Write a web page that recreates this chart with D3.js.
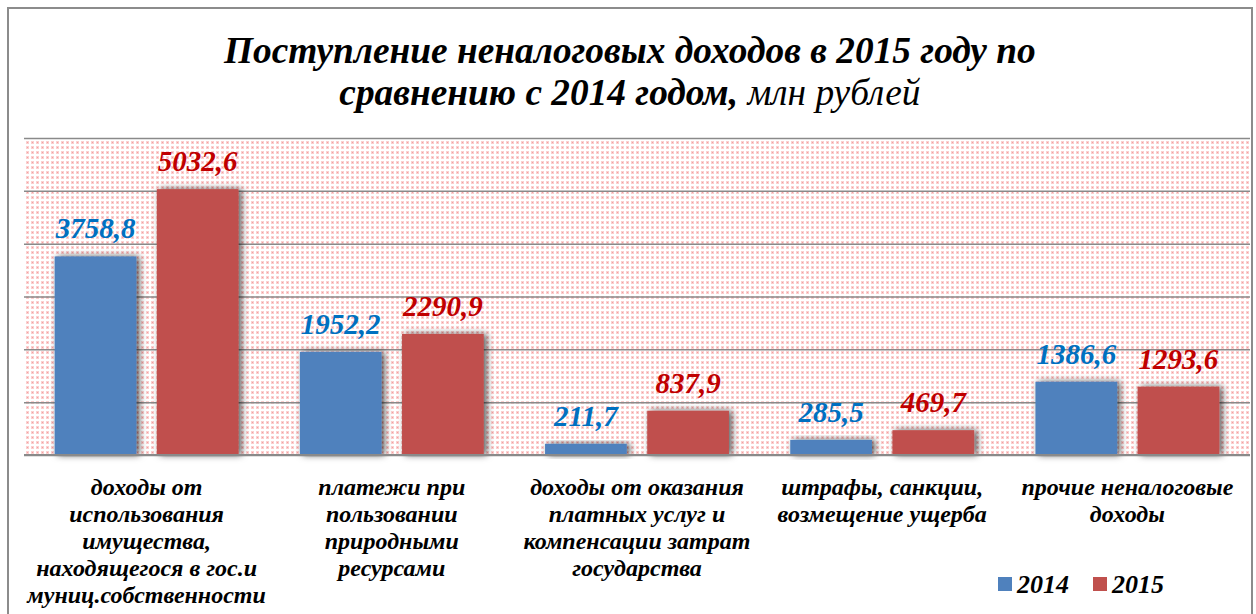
<!DOCTYPE html>
<html>
<head>
<meta charset="utf-8">
<script src="https://cdn.jsdelivr.net/npm/d3@7"></script>
<style>
  body { margin: 0; background: #fff; }
</style>
</head>
<body>
<div id="chart"></div>
<script>
// data
var categories = [
  ["доходы от", "использования", "имущества,", "находящегося в гос.и", "муниц.собственности"],
  ["платежи при", "пользовании", "природными", "ресурсами"],
  ["доходы от оказания", "платных услуг и", "компенсации затрат", "государства"],
  ["штрафы, санкции,", "возмещение ущерба"],
  ["прочие неналоговые", "доходы"]
];
var years = ["2014", "2015"];
var values2014 = [3758.8, 1952.2, 211.7, 285.5, 1386.6];
var values2015 = [5032.6, 2290.9, 837.9, 469.7, 1293.6];
var yTicks = [0, 1000, 2000, 3000, 4000, 5000, 6000];

var width = 1256, height = 614;
var plot = {left: 24, right: 1250, top: 138, bottom: 455};
var colors = {"2014": "#4f81bd", "2015": "#c0504d"};
var labelColors = {"2014": "#0070c0", "2015": "#c00000"};
var serif = "'Liberation Serif'";

var svg = d3.select("#chart").append("svg")
    .attr("width", width)
    .attr("height", height);

var defs = svg.append("defs");

// dotted pink fill of the plot area
var pat = defs.append("pattern")
    .attr("id", "dots")
    .attr("width", 5).attr("height", 5)
    .attr("patternUnits", "userSpaceOnUse");
pat.append("rect").attr("width", 5).attr("height", 5).attr("fill", "#fff");
pat.append("rect").attr("x", 1).attr("y", 1).attr("width", 3).attr("height", 3).attr("fill", "#fbd0d0");
pat.append("rect").attr("x", 2).attr("y", 2).attr("width", 1).attr("height", 1).attr("fill", "#f4a0a0");

var shadow = defs.append("filter")
    .attr("id", "shadow")
    .attr("x", "-30%").attr("y", "-30%")
    .attr("width", "160%").attr("height", "160%");
shadow.append("feDropShadow")
    .attr("dx", 3).attr("dy", 0)
    .attr("stdDeviation", 3.5)
    .attr("flood-color", "#000")
    .attr("flood-opacity", 0.65);

// outer border
svg.append("rect")
    .attr("x", 8).attr("y", 8)
    .attr("width", 1244).attr("height", 620)
    .attr("fill", "none")
    .attr("stroke", "#8c8c8c")
    .attr("stroke-width", 2);

// scales
var x0 = d3.scaleBand()
    .domain(d3.range(categories.length))
    .range([plot.left, plot.right]);

var x1 = d3.scaleBand()
    .domain(years)
    .range([0, x0.bandwidth()])
    .paddingInner(0.2)
    .paddingOuter(0.3);

var y = d3.scaleLinear()
    .domain([0, 6000])
    .range([plot.bottom, plot.top]);

// plot area
svg.append("rect")
    .attr("x", plot.left).attr("y", plot.top)
    .attr("width", plot.right - plot.left)
    .attr("height", plot.bottom - plot.top)
    .attr("fill", "url(#dots)");

// gridlines
var grid = svg.append("g")
    .attr("transform", "translate(" + plot.left + ",0)")
    .call(d3.axisLeft(y).tickValues(yTicks).tickSize(-(plot.right - plot.left)).tickFormat(""));
grid.select(".domain").remove();
grid.selectAll(".tick line")
    .attr("stroke", "#8a8a8a")
    .attr("stroke-width", 1.5);

// bars
var series = years.map(function(yr, i) {
  return {year: yr, values: i === 0 ? values2014 : values2015};
});

var groups = svg.selectAll(".series")
    .data(series)
    .enter().append("g")
    .attr("class", "series");

function points(s) {
  return s.values.map(function(v, i) { return {year: s.year, value: v, idx: i}; });
}

groups.selectAll("rect")
    .data(points)
    .enter().append("rect")
    .attr("x", function(d) { return x0(d.idx) + x1(d.year); })
    .attr("y", function(d) { return y(d.value); })
    .attr("width", x1.bandwidth())
    .attr("height", function(d) { return y(0) - y(d.value); })
    .attr("fill", function(d) { return colors[d.year]; })
    .attr("filter", "url(#shadow)");

// value labels
groups.selectAll("text")
    .data(points)
    .enter().append("text")
    .attr("x", function(d) { return x0(d.idx) + x1(d.year) + x1.bandwidth() / 2; })
    .attr("y", function(d) { return y(d.value) - 18; })
    .attr("text-anchor", "middle")
    .style("font-family", serif)
    .attr("font-size", 29)
    .attr("font-weight", "bold")
    .attr("font-style", "italic")
    .attr("fill", function(d) { return labelColors[d.year]; })
    .text(function(d) { return d3.format(".1f")(d.value).replace(".", ","); });

// baseline over the bars
svg.append("line")
    .attr("x1", plot.left).attr("x2", plot.right)
    .attr("y1", y(0)).attr("y2", y(0))
    .attr("stroke", "#8a8a8a")
    .attr("stroke-width", 2);

// category labels
categories.forEach(function(lines, i) {
  var t = svg.append("text")
      .attr("text-anchor", "middle")
      .style("font-family", serif)
      .attr("font-size", 24)
      .attr("font-weight", "bold")
      .attr("font-style", "italic")
      .attr("fill", "#000");
  lines.forEach(function(l, j) {
    t.append("tspan")
        .attr("x", x0(i) + x0.bandwidth() / 2)
        .attr("y", 495 + j * 27)
        .text(l);
  });
});

// title (condensed Times look, scaled horizontally)
var title = svg.append("g");
var t1 = title.append("text")
    .style("font-family", serif)
    .attr("font-size", 37)
    .attr("font-weight", "bold")
    .attr("font-style", "italic")
    .attr("y", 63)
    .text("Поступление неналоговых доходов в 2015 году по");
var t2 = title.append("text")
    .style("font-family", serif)
    .attr("font-size", 37)
    .attr("font-style", "italic")
    .attr("y", 105);
t2.append("tspan").attr("font-weight", "bold").text("сравнению с 2014 годом,");
t2.append("tspan").text(" млн рублей");

var k = 812 / t1.node().getComputedTextLength();
var cx = 630;
[t1, t2].forEach(function(t) {
  var w = t.node().getComputedTextLength();
  t.attr("transform", "translate(" + (cx - w * k / 2) + ",0) scale(" + k + ",1)");
});

// legend
var legend = svg.append("g");
years.forEach(function(yr, i) {
  var lx = 998 + i * 95;
  legend.append("rect")
      .attr("x", lx).attr("y", 577)
      .attr("width", 14).attr("height", 14)
      .attr("fill", colors[yr]);
  legend.append("text")
      .attr("x", lx + 19).attr("y", 593)
      .style("font-family", serif)
      .attr("font-size", 26)
      .attr("font-weight", "bold")
      .attr("font-style", "italic")
      .text(yr);
});
</script>
</body>
</html>
